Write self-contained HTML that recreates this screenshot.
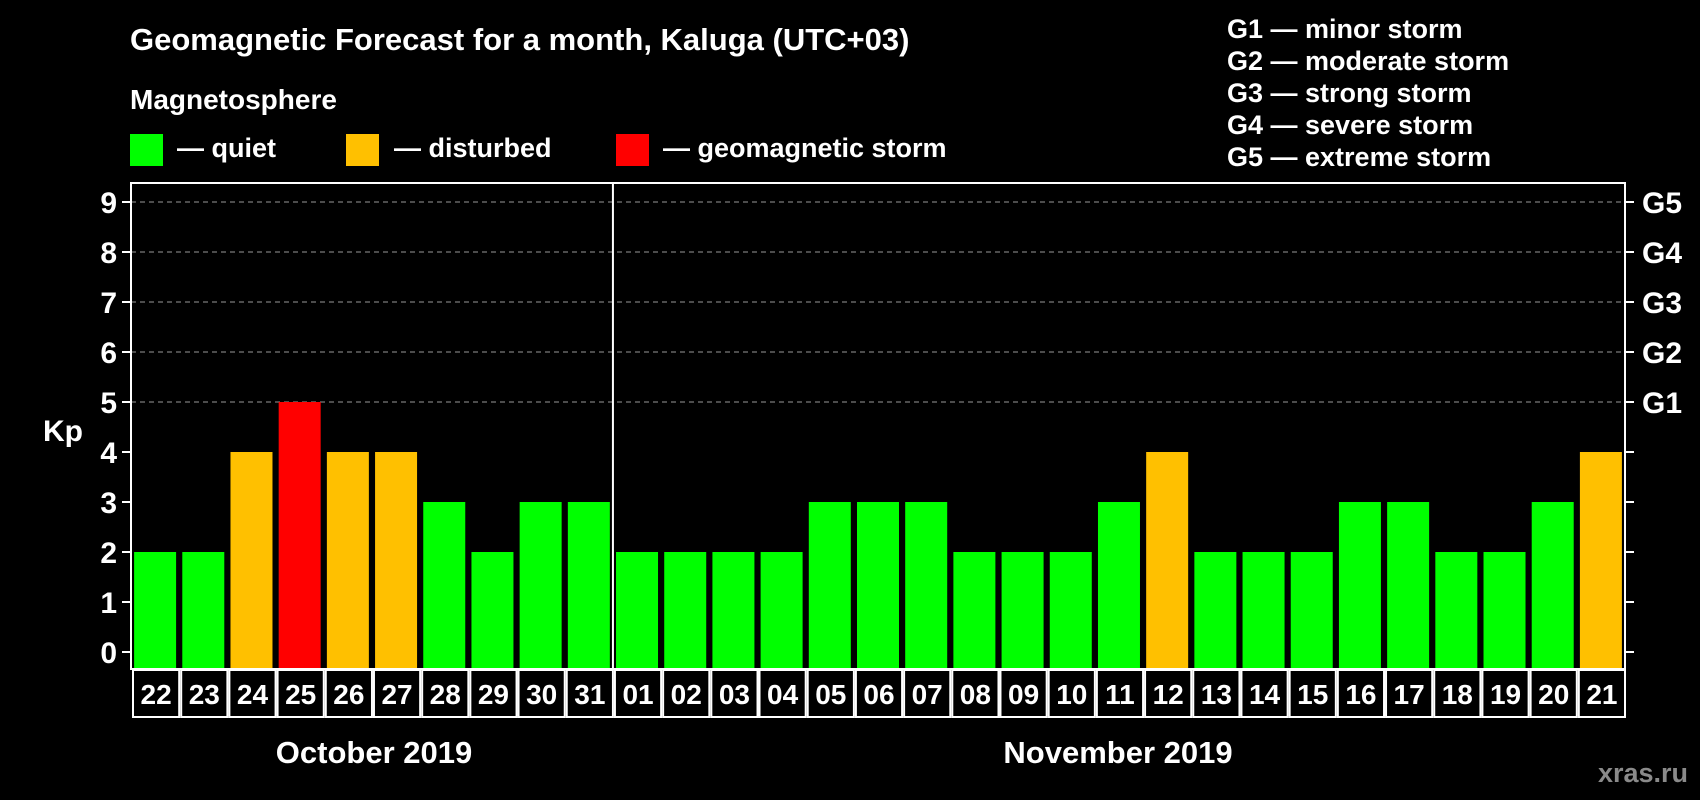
<!DOCTYPE html>
<html><head><meta charset="utf-8"><style>
html,body{margin:0;padding:0;background:#000;}
svg{display:block;font-family:"Liberation Sans",Arial,sans-serif;font-weight:bold;}
</style></head><body>
<svg id="chart" width="1700" height="800" viewBox="0 0 1700 800">
<rect width="1700" height="800" fill="#000"/>
<text x="130" y="50" fill="#fff" font-size="31">Geomagnetic Forecast for a month, Kaluga (UTC+03)</text>
<text x="130" y="109" fill="#fff" font-size="28">Magnetosphere</text>
<g><rect x="130" y="134" width="33" height="32" fill="#00ff00"/><text x="177" y="157" fill="#fff" font-size="27">— quiet</text></g>
<g><rect x="346" y="134" width="33" height="32" fill="#ffc000"/><text x="394" y="157" fill="#fff" font-size="27">— disturbed</text></g>
<g><rect x="616" y="134" width="33" height="32" fill="#ff0000"/><text x="663" y="157" fill="#fff" font-size="27">— geomagnetic storm</text></g>
<g fill="#fff" font-size="27">
<text x="1227" y="38">G1 — minor storm</text>
<text x="1227" y="70">G2 — moderate storm</text>
<text x="1227" y="102">G3 — strong storm</text>
<text x="1227" y="134">G4 — severe storm</text>
<text x="1227" y="166">G5 — extreme storm</text>
</g>
<text x="63" y="441" fill="#fff" font-size="30" text-anchor="middle">Kp</text>
<g id="grid"></g>
<g id="bars"></g>
<g id="axes"></g>
<text x="374" y="763" fill="#fff" font-size="31" text-anchor="middle">October 2019</text>
<text x="1118" y="763" fill="#fff" font-size="31" text-anchor="middle">November 2019</text>
<text x="1688" y="782" fill="#8a8a8a" font-size="27" text-anchor="end">xras.ru</text>
</svg>
<script>
const days = ["22","23","24","25","26","27","28","29","30","31","01","02","03","04","05","06","07","08","09","10","11","12","13","14","15","16","17","18","19","20","21"];
const kpValues = [2,2,4,5,4,4,3,2,3,3,2,2,2,2,3,3,3,2,2,2,3,4,2,2,2,3,3,2,2,3,4];
const yTicks = [0,1,2,3,4,5,6,7,8,9];
const gLabels = ["G1","G2","G3","G4","G5"];
const NS="http://www.w3.org/2000/svg";
const L=131,R=1625,T=183,B=669,Y0=652,Y9=202;
const y=v=>Y0-(Y0-Y9)*v/9;
const band=(R-L)/days.length;
const x=i=>L+i*band;
function mk(tag,attrs,parent){const e=document.createElementNS(NS,tag);for(const k in attrs)e.setAttribute(k,attrs[k]);parent.appendChild(e);return e;}
const grid=document.getElementById('grid'),bars=document.getElementById('bars'),axes=document.getElementById('axes');
yTicks.forEach(v=>{
  if(v>=5){const g=mk('line',{x1:L,x2:R,y1:y(v),y2:y(v),stroke:'#999','stroke-dasharray':'5,4','stroke-width':1},grid);
  
  }
  const t1=mk('line',{x1:L-9,x2:L,y1:y(v),y2:y(v),stroke:'#fff','stroke-width':2},axes);
  
  
  const t2=mk('line',{x1:R,x2:R+9,y1:y(v),y2:y(v),stroke:'#fff','stroke-width':2},axes);
  
  
  const tl=mk('text',{x:117,y:y(v)+11,fill:'#fff','font-size':30,'text-anchor':'end'},axes);
  tl.textContent=v;
  
  
  if(v>=5){const gl=mk('text',{x:1642,y:y(v)+11,fill:'#fff','font-size':30},axes);
  gl.textContent=gLabels[v-5];
  
  }
});
kpValues.forEach((v,i)=>{
  const c=v>=5?'#ff0000':(v>=4?'#ffc000':'#00ff00');
  const b=mk('rect',{x:x(i)+(band-42)/2,y:y(v),width:42,height:B-y(v),fill:c},bars);
  
  
  const cell=mk('rect',{x:x(i)+2,y:B+1,width:band-2,height:47,fill:'none',stroke:'#fff','stroke-width':2},axes);
  
  
  const tx=mk('text',{x:x(i)+band/2+1,y:B+35,fill:'#fff','font-size':28,'text-anchor':'middle'},axes);
  tx.textContent=days[i];
  
  
});
const frame=mk('rect',{x:L,y:T,width:R-L,height:B-T,fill:'none',stroke:'#fff','stroke-width':2},axes);


const sep=mk('line',{x1:x(10),x2:x(10),y1:T,y2:B,stroke:'#fff','stroke-width':2},axes);


</script>
</body></html>
